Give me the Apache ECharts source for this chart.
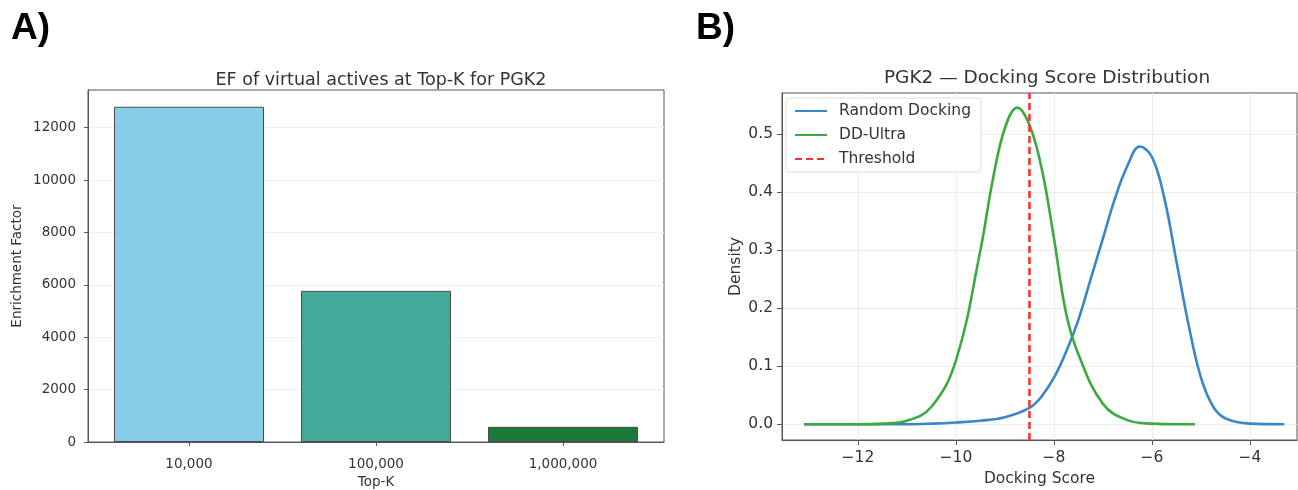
<!DOCTYPE html>
<html>
<head>
<meta charset="utf-8">
<script src="https://cdn.jsdelivr.net/npm/echarts@6/dist/echarts.min.js"></script>
<style>
  html, body { margin: 0; padding: 0; background: #fff; }
  #chart { width: 1298px; height: 490px; }
</style>
</head>
<body>
<div id="chart"></div>
<script>
// panel A: enrichment factor per Top-K
var topK = ['10,000', '100,000', '1,000,000'];
var efValues = [12800, 5770, 580];
var efTicks = [0, 2000, 4000, 6000, 8000, 10000, 12000];

// panel B: density curves
var randomX = [-13.1, -12, -11, -10.5, -10, -9.5, -9, -8.5, -8.25, -8, -7.75, -7.5, -7.25, -7, -6.75, -6.5, -6.25, -6, -5.75, -5.5, -5.25, -5, -4.75, -4.5, -4, -3.3];
var randomY = [0, 0, 0, 0.001, 0.003, 0.006, 0.012, 0.028, 0.048, 0.08, 0.125, 0.18, 0.25, 0.32, 0.39, 0.445, 0.478, 0.46, 0.39, 0.28, 0.17, 0.08, 0.03, 0.01, 0.001, 0];
var ultraX = [-13.1, -12.5, -12, -11.5, -11, -10.5, -10, -9.5, -9.25, -9, -8.75, -8.5, -8.25, -8, -7.75, -7.5, -7, -6.5, -6, -5.5, -5.12];
var ultraY = [0, 0, 0, 0.001, 0.006, 0.03, 0.11, 0.3, 0.42, 0.51, 0.545, 0.515, 0.44, 0.32, 0.19, 0.12, 0.035, 0.007, 0.001, 0, 0];
var threshold = -8.5;
var scoreTicks = [-12, -10, -8, -6, -4];
var densityTicks = [0, 0.1, 0.2, 0.3, 0.4, 0.5];

var barColors = ['#87ceeb', '#45aa9a', '#1a7a3a'];
var FONT = 'DejaVu Sans';
var TXT = '#333';
var FS_A = 13.5;   // panel A text
var FS_B = 15.5;   // panel B text (figure was scaled up a bit)

function zip(xs, ys) {
    return xs.map(function (x, i) { return [x, ys[i]]; });
}

var chart = echarts.init(document.getElementById('chart'));

var axisLineStyle = { color: '#555', width: 1 };

var option = {
    animation: false,
    textStyle: { fontFamily: FONT },
    title: [
        {
            text: 'EF of virtual actives at Top-K for PGK2',
            left: 376, top: 66, textAlign: 'center',
            textStyle: { fontFamily: FONT, fontSize: 17.5, fontWeight: 'normal', color: TXT }
        },
        {
            text: 'PGK2 \u2014 Docking Score Distribution',
            left: 1042, top: 64, textAlign: 'center',
            textStyle: { fontFamily: FONT, fontSize: 18.5, fontWeight: 'normal', color: TXT }
        }
    ],
    graphic: [
        { type: 'text', left: 11, top: 10, style: { text: 'A)', font: 'bold 37px "Liberation Sans"', fill: '#000' } },
        { type: 'text', left: 696, top: 10, style: { text: 'B)', font: 'bold 37px "Liberation Sans"', fill: '#000' } }
    ],
    legend: {
        left: 786, top: 98,
        orient: 'vertical',
        itemWidth: 32, itemHeight: 12, itemGap: 8,
        padding: [5, 10, 5, 8],
        backgroundColor: '#fff',
        borderColor: '#ddd', borderWidth: 1, borderRadius: 3,
        itemStyle: { opacity: 0 },
        textStyle: { fontFamily: FONT, fontSize: FS_B, color: TXT, padding: [0, 0, 0, 7] },
        data: ['Random Docking', 'DD-Ultra', 'Threshold']
    },
    grid: [
        { left: 88, top: 90, width: 576, height: 352, outerBoundsMode: 'none', containLabel: false, show: true, borderColor: '#555', borderWidth: 1, backgroundColor: 'transparent' },
        { left: 782, top: 93, width: 515, height: 347, outerBoundsMode: 'none', containLabel: false, show: true, borderColor: '#555', borderWidth: 1, backgroundColor: 'transparent' }
    ],
    xAxis: [
        {
            gridIndex: 0, type: 'value', min: -0.54, max: 2.54,
            name: 'Top-K', nameLocation: 'middle', nameGap: 32,
            nameTextStyle: { fontFamily: FONT, fontSize: FS_A, color: TXT },
            axisLine: { onZero: false, lineStyle: axisLineStyle },
            axisTick: { customValues: [0, 1, 2], length: 4, lineStyle: axisLineStyle },
            axisLabel: {
                customValues: [0, 1, 2], margin: 15,
                fontFamily: FONT, fontSize: FS_A, color: TXT,
                formatter: function (v) { return topK[Math.round(v)]; }
            },
            splitLine: { show: false }
        },
        {
            gridIndex: 1, type: 'value', min: -13.55, max: -3.04,
            name: 'Docking Score', nameLocation: 'middle', nameGap: 30,
            nameTextStyle: { fontFamily: FONT, fontSize: FS_B, color: TXT },
            axisLine: { onZero: false, lineStyle: axisLineStyle },
            axisTick: { customValues: scoreTicks, length: 5, lineStyle: axisLineStyle },
            axisLabel: {
                customValues: scoreTicks, margin: 10,
                fontFamily: FONT, fontSize: FS_B, color: TXT,
                formatter: function (v) { return v < 0 ? '\u2212' + Math.abs(v) : String(v); }
            },
            splitLine: { show: true, lineStyle: { color: '#ececec', width: 1 } }
        }
    ],
    yAxis: [
        {
            gridIndex: 0, type: 'value', min: 0, max: 13440,
            name: 'Enrichment Factor', nameLocation: 'middle', nameGap: 64,
            nameTextStyle: { fontFamily: FONT, fontSize: FS_A, color: TXT },
            axisLine: { show: true, onZero: false, lineStyle: axisLineStyle },
            axisTick: { show: true, customValues: efTicks, length: 4, lineStyle: axisLineStyle },
            axisLabel: {
                customValues: efTicks, margin: 12, fontFamily: FONT, fontSize: FS_A, color: TXT,
                formatter: function (v) { return String(v); }
            },
            splitLine: { show: true, lineStyle: { color: '#efefef', width: 1 } }
        },
        {
            gridIndex: 1, type: 'value', min: -0.0272, max: 0.5702,
            name: 'Density', nameLocation: 'middle', nameGap: 38,
            nameTextStyle: { fontFamily: FONT, fontSize: FS_B, color: TXT },
            axisLine: { show: true, onZero: false, lineStyle: axisLineStyle },
            axisTick: { show: true, customValues: densityTicks, length: 5, lineStyle: axisLineStyle },
            axisLabel: {
                customValues: densityTicks, margin: 9, fontFamily: FONT, fontSize: FS_B, color: TXT,
                formatter: function (v) { return v.toFixed(1); }
            },
            splitLine: { show: true, lineStyle: { color: '#ececec', width: 1 } }
        }
    ],
    series: [
        {
            type: 'bar', xAxisIndex: 0, yAxisIndex: 0,
            barWidth: 150,
            data: efValues.map(function (v, i) {
                return { value: [i, v], itemStyle: { color: barColors[i] } };
            }),
            itemStyle: { borderColor: '#4a4a4a', borderWidth: 1 }
        },
        {
            name: 'Random Docking', type: 'line', xAxisIndex: 1, yAxisIndex: 1,
            data: zip(randomX, randomY), smooth: 0.4, symbol: 'none',
            lineStyle: { color: '#3a86c6', width: 2.6 }, itemStyle: { color: '#3a86c6' }, z: 3
        },
        {
            name: 'DD-Ultra', type: 'line', xAxisIndex: 1, yAxisIndex: 1,
            data: zip(ultraX, ultraY), smooth: 0.4, symbol: 'none',
            lineStyle: { color: '#3daa3d', width: 2.6 }, itemStyle: { color: '#3daa3d' }, z: 4
        },
        {
            name: 'Threshold', type: 'line', xAxisIndex: 1, yAxisIndex: 1,
            data: [[threshold, -0.0272], [threshold, 0.5702]], symbol: 'none',
            lineStyle: { color: '#ff3030', width: 2.6, type: [7, 4] }, itemStyle: { color: '#ff3030' }, z: 5
        }
    ]
};

chart.setOption(option);
</script>
</body>
</html>
